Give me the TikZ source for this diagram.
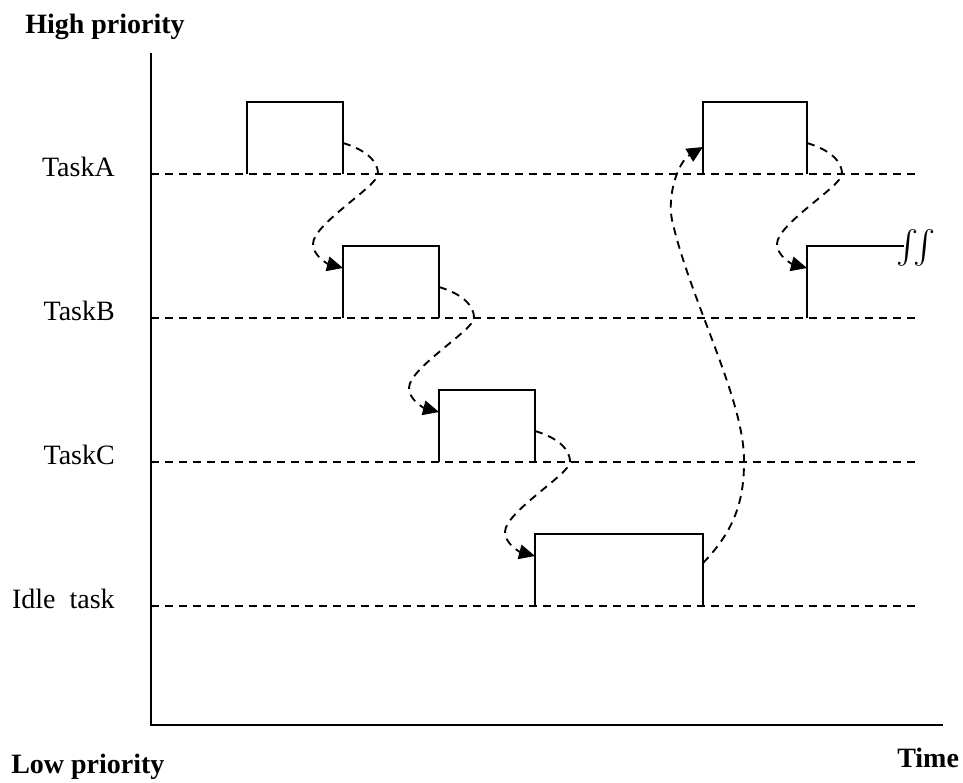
\documentclass[tikz,border=0pt]{standalone}
\usepackage{amsmath}
\usepackage{fontspec}
\setmainfont{Liberation Serif}
\usetikzlibrary{arrows.meta}
\tikzset{
  axis line/.style={draw=black, line width=1.5pt},
  task box/.style={draw=black, line width=1.5pt},
  level line/.style={draw=black, line width=1.4pt, dash pattern=on 6pt off 4.5pt},
  switch arrow/.style={level line, -{Triangle[length=12pt, width=11pt]}},
  task label/.style={anchor=base east, inner sep=0pt, font=\fontsize{21}{25}\selectfont},
  axis label/.style={anchor=base west, inner sep=0pt, font=\fontsize{21}{25}\selectfont\bfseries}
}

\begin{document}
\begin{tikzpicture}[x=0.75pt, y=-0.75pt]
  \useasboundingbox (0,0) rectangle (963,782);

  % axes and their labels
  \coordinate (top) at (151,53);
  \coordinate (origin) at (151,725);
  \coordinate (end) at (943,725);
  \draw [axis line] (top) -- (origin) -- (end);
  \node (high) [axis label] at (25,33) {High priority};
  \node (low) [axis label] at (11,773) {Low priority};
  \node (time) [axis label] at (897,767) {Time};

  % priority levels
  \foreach \name/\txt/\ly in {a/TaskA/174, b/TaskB/318, c/TaskC/462, idle/Idle~~task/606} {
    \node (\name) [task label] at (115,\ly+2) {\txt};
    \draw [level line] (151,\ly) -- (915,\ly);
  }

  % running slices
  \draw [task box] (247,174) |- (343,102) -- (343,174);
  \draw [task box] (343,318) |- (439,246) -- (439,318);
  \draw [task box] (439,462) |- (535,390) -- (535,462);
  \draw [task box] (535,606) |- (703,534) -- (703,606);
  \draw [task box] (703,174) |- (807,102) -- (807,174);
  \draw [task box] (807,318) |- (904,246);
  \node (more) at (916,248) {\fontsize{27}{30}\selectfont$\iint$};

  % switches down one level
  \foreach \x/\ly in {343/174, 439/318, 535/462, 807/174}
    \draw [switch arrow] (\x,\ly-31)
      .. controls (\x+17,\ly-26) and (\x+35,\ly-16) .. (\x+35,\ly)
      .. controls (\x+35,\ly+12) and (\x-30,\ly+50) .. (\x-30,\ly+70)
      .. controls (\x-30,\ly+82) and (\x-15,\ly+90) .. (\x,\ly+94);

  % idle task back to TaskA
  \coordinate (wake) at (703,563);
  \coordinate (resume) at (703,147);
  \draw [switch arrow] (wake)
    .. controls (735,530) and (744,500) .. (744,462)
    .. controls (745,400) and (690,300) .. (672,220)
    .. controls (667,195) and (678,162) .. (resume);
\end{tikzpicture}
\end{document}
